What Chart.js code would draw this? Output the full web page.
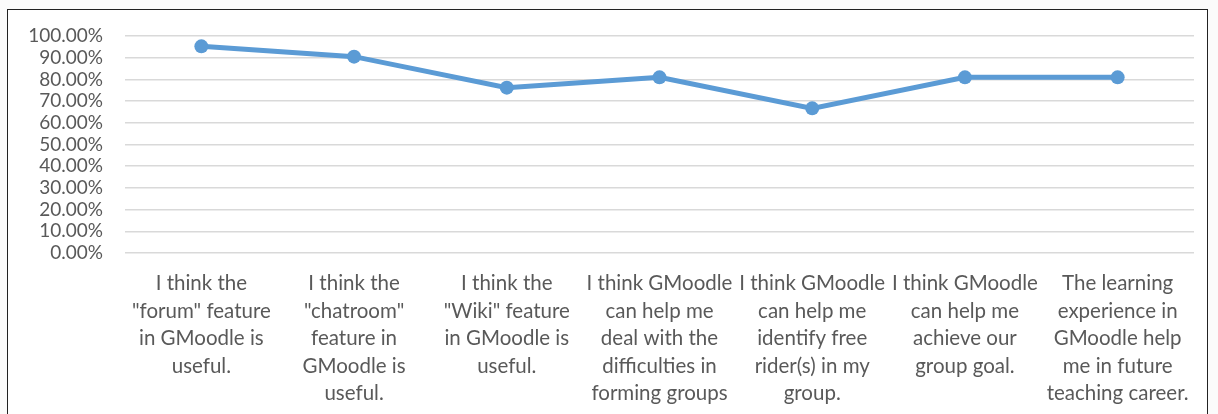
<!DOCTYPE html>
<html>
<head>
<meta charset="utf-8">
<script src="https://cdn.jsdelivr.net/npm/chart.js@4"></script>
<style>
    html, body { margin: 0; padding: 0; }
    body {
        width: 1218px; height: 414px; overflow: hidden; position: relative;
        background: #fbfbfb;
    }
    .frame {
        position: absolute; left: 7px; top: 9px; width: 1199px; height: 420px;
        border: 1.5px solid #222; background: #fff;
    }
    #chartSurvey { position: absolute; left: 0; top: 0; }
</style>
</head>
<body>
<div class="frame"></div>
<canvas id="chartSurvey" width="1218" height="414"></canvas>
<script>
// Survey agreement per statement (percent of respondents)
var statements = [
    ['I think the', '"forum" feature', 'in GMoodle is', 'useful.'],
    ['I think the', '"chatroom"', 'feature in', 'GMoodle is', 'useful.'],
    ['I think the', '"Wiki" feature', 'in GMoodle is', 'useful.'],
    ['I think GMoodle', 'can help me', 'deal with the', 'difficulties in', 'forming groups'],
    ['I think GMoodle', 'can help me', 'identify free', 'rider(s) in my', 'group.'],
    ['I think GMoodle', 'can help me', 'achieve our', 'group goal.'],
    ['The learning', 'experience in', 'GMoodle help', 'me in future', 'teaching career.']
];
var agreePct = [95.24, 90.48, 76.19, 80.95, 66.67, 80.95, 80.95];
var yStep = 10;

(function() {
    var fontFamily = 'Lato, "Open Sans", sans-serif';
    var canvas = document.getElementById('chartSurvey');

    new Chart(canvas, {
        type: 'line',
        data: {
            labels: statements,
            datasets: [{
                data: agreePct,
                borderColor: '#5b9bd5',
                backgroundColor: '#5b9bd5',
                borderWidth: 5,
                pointRadius: 7,
                pointHoverRadius: 7,
                pointBorderWidth: 0,
                tension: 0
            }]
        },
        options: {
            responsive: false,
            animation: false,
            layout: { padding: { left: 14, right: 24, top: 36, bottom: 0 } },
            plugins: { legend: { display: false }, tooltip: { enabled: false } },
            scales: {
                x: {
                    offset: true,
                    afterFit: function(scale) { scale.height = 161; },
                    grid: { display: false },
                    border: { display: false },
                    ticks: {
                        color: '#595959',
                        font: { family: fontFamily, size: 20.5, lineHeight: 1.34 },
                        maxRotation: 0,
                        autoSkip: false,
                        padding: 9
                    }
                },
                y: {
                    min: 0,
                    max: 100,
                    afterFit: function(scale) { scale.width = 111; },
                    grid: { color: '#d9d9d9', lineWidth: 1.5, drawTicks: false },
                    border: { display: false },
                    ticks: {
                        stepSize: yStep,
                        autoSkip: false,
                        color: '#595959',
                        font: { family: fontFamily, size: 19 },
                        padding: 22,
                        callback: function(v) { return v.toFixed(2) + '%'; }
                    }
                }
            }
        }
    });
})();
</script>
</body>
</html>
